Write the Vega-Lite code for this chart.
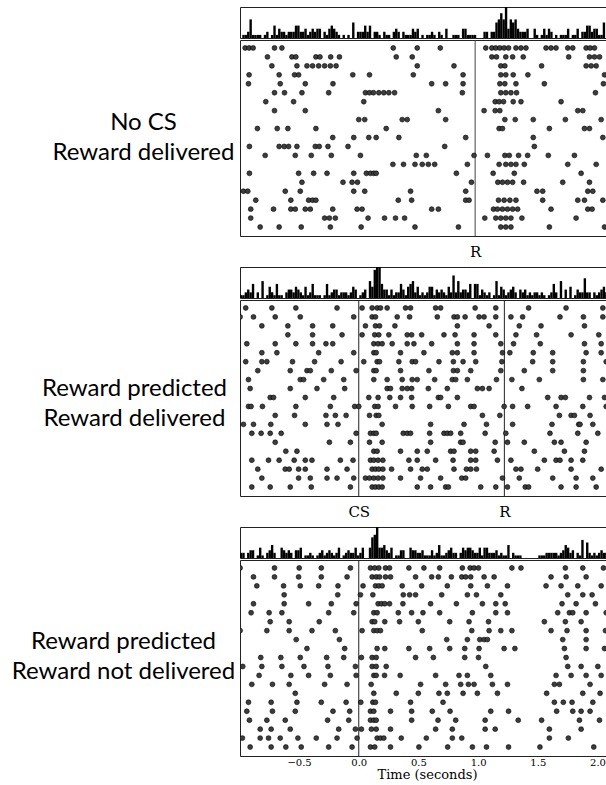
{
  "$schema": "https://vega.github.io/schema/vega-lite/v6.json",
  "background": "white",
  "padding": {"left": 10, "top": 6, "right": 0, "bottom": 0},
  "config": {"view": {"stroke": "#222", "strokeWidth": 1}, "font": "Lato"},
  "datasets": {
    "p1": [
      {"trial":1,"t":-0.952},{"trial":1,"t":-0.919},{"trial":1,"t":-0.885},{"trial":1,"t":-0.706},{"trial":1,"t":-0.644},{"trial":1,"t":0.289},{"trial":1,"t":0.490},{"trial":1,"t":0.683},{"trial":1,"t":1.064},{"trial":1,"t":1.115},{"trial":1,"t":1.148},{"trial":1,"t":1.182},{"trial":1,"t":1.218},{"trial":1,"t":1.255},{"trial":1,"t":1.317},{"trial":1,"t":1.359},{"trial":1,"t":1.401},{"trial":1,"t":1.569},{"trial":1,"t":1.611},{"trial":1,"t":1.653},{"trial":1,"t":1.751},{"trial":1,"t":1.793},{"trial":1,"t":1.905},{"trial":1,"t":1.938},{"trial":1,"t":1.975},
      {"trial":2,"t":-0.765},{"trial":2,"t":-0.560},{"trial":2,"t":-0.527},{"trial":2,"t":-0.359},{"trial":2,"t":-0.325},{"trial":2,"t":-0.235},{"trial":2,"t":-0.162},{"trial":2,"t":0.314},{"trial":2,"t":0.448},{"trial":2,"t":1.115},{"trial":2,"t":1.154},{"trial":2,"t":1.232},{"trial":2,"t":1.289},{"trial":2,"t":1.378},{"trial":2,"t":1.759},{"trial":2,"t":1.933},{"trial":2,"t":1.975},{"trial":2,"t":2.017},
      {"trial":3,"t":-0.728},{"trial":3,"t":-0.518},{"trial":3,"t":-0.434},{"trial":3,"t":-0.387},{"trial":3,"t":-0.336},{"trial":3,"t":-0.286},{"trial":3,"t":-0.238},{"trial":3,"t":-0.190},{"trial":3,"t":0.490},{"trial":3,"t":0.798},{"trial":3,"t":1.190},{"trial":3,"t":1.224},{"trial":3,"t":1.532},{"trial":3,"t":1.905},{"trial":3,"t":1.947},{"trial":3,"t":1.989},
      {"trial":4,"t":-0.919},{"trial":4,"t":-0.667},{"trial":4,"t":-0.538},{"trial":4,"t":-0.504},{"trial":4,"t":-0.050},{"trial":4,"t":0.090},{"trial":4,"t":0.457},{"trial":4,"t":0.874},{"trial":4,"t":1.190},{"trial":4,"t":1.232},{"trial":4,"t":1.294},{"trial":4,"t":1.417},{"trial":4,"t":2.059},
      {"trial":5,"t":-0.924},{"trial":5,"t":-0.658},{"trial":5,"t":-0.448},{"trial":5,"t":-0.216},{"trial":5,"t":0.611},{"trial":5,"t":0.728},{"trial":5,"t":0.874},{"trial":5,"t":1.182},{"trial":5,"t":1.224},{"trial":5,"t":1.317},{"trial":5,"t":1.555},{"trial":5,"t":2.050},
      {"trial":6,"t":-0.706},{"trial":6,"t":-0.622},{"trial":6,"t":-0.476},{"trial":6,"t":-0.252},{"trial":6,"t":0.056},{"trial":6,"t":0.090},{"trial":6,"t":0.123},{"trial":6,"t":0.168},{"trial":6,"t":0.210},{"trial":6,"t":0.252},{"trial":6,"t":0.300},{"trial":6,"t":0.868},{"trial":6,"t":1.190},{"trial":6,"t":1.232},{"trial":6,"t":1.275},{"trial":6,"t":1.322},{"trial":6,"t":1.983},
      {"trial":7,"t":-0.779},{"trial":7,"t":-0.546},{"trial":7,"t":0.042},{"trial":7,"t":1.143},{"trial":7,"t":1.176},{"trial":7,"t":1.213},{"trial":7,"t":1.294},{"trial":7,"t":1.359},{"trial":7,"t":1.695},
      {"trial":8,"t":-0.706},{"trial":8,"t":-0.448},{"trial":8,"t":0.667},{"trial":8,"t":1.050},{"trial":8,"t":1.143},{"trial":8,"t":1.182},{"trial":8,"t":1.835},{"trial":8,"t":1.877},
      {"trial":9,"t":0.000},{"trial":9,"t":0.050},{"trial":9,"t":0.364},{"trial":9,"t":0.406},{"trial":9,"t":0.728},{"trial":9,"t":1.224},{"trial":9,"t":1.311},{"trial":9,"t":1.462},{"trial":9,"t":1.731},{"trial":9,"t":2.031},
      {"trial":10,"t":-0.849},{"trial":10,"t":-0.683},{"trial":10,"t":-0.594},{"trial":10,"t":-0.359},{"trial":10,"t":0.230},{"trial":10,"t":1.176},{"trial":10,"t":1.204},{"trial":10,"t":1.597},{"trial":10,"t":1.891},{"trial":10,"t":1.933},
      {"trial":11,"t":-0.218},{"trial":11,"t":-0.042},{"trial":11,"t":0.084},{"trial":11,"t":0.146},{"trial":11,"t":0.336},{"trial":11,"t":0.896},{"trial":11,"t":1.462},{"trial":11,"t":2.045},
      {"trial":12,"t":-0.916},{"trial":12,"t":-0.667},{"trial":12,"t":-0.625},{"trial":12,"t":-0.588},{"trial":12,"t":-0.518},{"trial":12,"t":-0.364},{"trial":12,"t":-0.331},{"trial":12,"t":-0.258},{"trial":12,"t":-0.090},{"trial":12,"t":0.720},{"trial":12,"t":1.471},
      {"trial":13,"t":-0.784},{"trial":13,"t":-0.532},{"trial":13,"t":-0.398},{"trial":13,"t":-0.230},{"trial":13,"t":0.014},{"trial":13,"t":0.482},{"trial":13,"t":0.566},{"trial":13,"t":0.966},{"trial":13,"t":1.078},{"trial":13,"t":1.224},{"trial":13,"t":1.261},{"trial":13,"t":1.339},{"trial":13,"t":1.415},{"trial":13,"t":1.588},{"trial":13,"t":1.807},
      {"trial":14,"t":0.286},{"trial":14,"t":0.375},{"trial":14,"t":0.471},{"trial":14,"t":0.532},{"trial":14,"t":0.583},{"trial":14,"t":0.636},{"trial":14,"t":0.910},{"trial":14,"t":1.176},{"trial":14,"t":1.232},{"trial":14,"t":1.275},{"trial":14,"t":1.317},{"trial":14,"t":1.387},{"trial":14,"t":1.751},{"trial":14,"t":1.989},
      {"trial":15,"t":-0.916},{"trial":15,"t":-0.504},{"trial":15,"t":-0.378},{"trial":15,"t":-0.266},{"trial":15,"t":-0.042},{"trial":15,"t":0.064},{"trial":15,"t":0.098},{"trial":15,"t":0.126},{"trial":15,"t":0.146},{"trial":15,"t":0.818},{"trial":15,"t":1.126},{"trial":15,"t":1.303},{"trial":15,"t":1.863},
      {"trial":16,"t":-0.476},{"trial":16,"t":-0.132},{"trial":16,"t":-0.056},{"trial":16,"t":-0.011},{"trial":16,"t":0.944},{"trial":16,"t":1.165},{"trial":16,"t":1.204},{"trial":16,"t":1.246},{"trial":16,"t":1.289},{"trial":16,"t":1.381},{"trial":16,"t":1.709},{"trial":16,"t":1.933},
      {"trial":17,"t":-0.966},{"trial":17,"t":-0.930},{"trial":17,"t":-0.616},{"trial":17,"t":-0.490},{"trial":17,"t":-0.042},{"trial":17,"t":0.050},{"trial":17,"t":0.434},{"trial":17,"t":0.896},{"trial":17,"t":1.493},{"trial":17,"t":1.541},{"trial":17,"t":1.919},{"trial":17,"t":1.961},
      {"trial":18,"t":-0.863},{"trial":18,"t":-0.569},{"trial":18,"t":-0.420},{"trial":18,"t":-0.387},{"trial":18,"t":-0.359},{"trial":18,"t":0.331},{"trial":18,"t":0.443},{"trial":18,"t":0.896},{"trial":18,"t":0.924},{"trial":18,"t":1.171},{"trial":18,"t":1.218},{"trial":18,"t":1.266},{"trial":18,"t":1.317},{"trial":18,"t":1.541},{"trial":18,"t":1.835},{"trial":18,"t":1.891},{"trial":18,"t":2.045},
      {"trial":19,"t":-0.905},{"trial":19,"t":-0.714},{"trial":19,"t":-0.569},{"trial":19,"t":-0.532},{"trial":19,"t":-0.448},{"trial":19,"t":-0.406},{"trial":19,"t":-0.218},{"trial":19,"t":-0.014},{"trial":19,"t":0.028},{"trial":19,"t":0.611},{"trial":19,"t":0.667},{"trial":19,"t":1.129},{"trial":19,"t":1.162},{"trial":19,"t":1.204},{"trial":19,"t":1.246},{"trial":19,"t":1.289},{"trial":19,"t":1.331},{"trial":19,"t":1.611},{"trial":19,"t":1.919},{"trial":19,"t":1.955},
      {"trial":20,"t":-0.905},{"trial":20,"t":-0.286},{"trial":20,"t":-0.246},{"trial":20,"t":-0.196},{"trial":20,"t":0.078},{"trial":20,"t":0.216},{"trial":20,"t":0.308},{"trial":20,"t":0.384},{"trial":20,"t":1.056},{"trial":20,"t":1.148},{"trial":20,"t":1.190},{"trial":20,"t":1.232},{"trial":20,"t":1.275},{"trial":20,"t":1.367},{"trial":20,"t":1.821},
      {"trial":21,"t":-0.826},{"trial":21,"t":-0.667},{"trial":21,"t":-0.482},{"trial":21,"t":-0.238},{"trial":21,"t":0.020},{"trial":21,"t":0.471},{"trial":21,"t":0.835},{"trial":21,"t":1.190},{"trial":21,"t":1.232},{"trial":21,"t":1.275},{"trial":21,"t":1.597},{"trial":21,"t":2.059}
    ],
    "p2": [
      {"trial":1,"t":-0.947},{"trial":1,"t":-0.728},{"trial":1,"t":-0.527},{"trial":1,"t":-0.182},{"trial":1,"t":0.028},{"trial":1,"t":0.112},{"trial":1,"t":0.154},{"trial":1,"t":0.182},{"trial":1,"t":0.238},{"trial":1,"t":0.392},{"trial":1,"t":0.434},{"trial":1,"t":0.644},{"trial":1,"t":0.686},{"trial":1,"t":0.975},{"trial":1,"t":1.148},{"trial":1,"t":1.423},{"trial":1,"t":1.737},{"trial":1,"t":2.045},
      {"trial":2,"t":-0.994},{"trial":2,"t":-0.882},{"trial":2,"t":-0.700},{"trial":2,"t":-0.490},{"trial":2,"t":-0.042},{"trial":2,"t":0.112},{"trial":2,"t":0.140},{"trial":2,"t":0.322},{"trial":2,"t":0.426},{"trial":2,"t":0.658},{"trial":2,"t":0.798},{"trial":2,"t":0.826},{"trial":2,"t":0.891},{"trial":2,"t":1.008},{"trial":2,"t":1.050},{"trial":2,"t":1.148},{"trial":2,"t":1.275},{"trial":2,"t":1.373},{"trial":2,"t":1.686},{"trial":2,"t":1.882},{"trial":2,"t":2.045},
      {"trial":3,"t":-0.812},{"trial":3,"t":-0.594},{"trial":3,"t":-0.387},{"trial":3,"t":-0.218},{"trial":3,"t":0.056},{"trial":3,"t":0.140},{"trial":3,"t":0.174},{"trial":3,"t":0.303},{"trial":3,"t":0.826},{"trial":3,"t":1.092},{"trial":3,"t":1.345},{"trial":3,"t":1.527},{"trial":3,"t":1.891},
      {"trial":4,"t":-0.594},{"trial":4,"t":-0.387},{"trial":4,"t":-0.140},{"trial":4,"t":0.028},{"trial":4,"t":0.134},{"trial":4,"t":0.168},{"trial":4,"t":0.252},{"trial":4,"t":0.406},{"trial":4,"t":0.443},{"trial":4,"t":0.527},{"trial":4,"t":0.714},{"trial":4,"t":0.807},{"trial":4,"t":0.966},{"trial":4,"t":1.148},{"trial":4,"t":1.317},{"trial":4,"t":1.490},{"trial":4,"t":1.779},{"trial":4,"t":2.011},
      {"trial":5,"t":-0.938},{"trial":5,"t":-0.700},{"trial":5,"t":-0.527},{"trial":5,"t":-0.387},{"trial":5,"t":-0.275},{"trial":5,"t":-0.218},{"trial":5,"t":0.126},{"trial":5,"t":0.162},{"trial":5,"t":0.196},{"trial":5,"t":0.280},{"trial":5,"t":0.406},{"trial":5,"t":0.462},{"trial":5,"t":0.611},{"trial":5,"t":0.826},{"trial":5,"t":0.966},{"trial":5,"t":1.190},{"trial":5,"t":1.297},{"trial":5,"t":1.521},{"trial":5,"t":1.891},{"trial":5,"t":2.031},
      {"trial":6,"t":-0.812},{"trial":6,"t":-0.686},{"trial":6,"t":-0.336},{"trial":6,"t":-0.042},{"trial":6,"t":0.126},{"trial":6,"t":0.146},{"trial":6,"t":0.350},{"trial":6,"t":0.546},{"trial":6,"t":0.784},{"trial":6,"t":0.826},{"trial":6,"t":0.966},{"trial":6,"t":1.204},{"trial":6,"t":1.266},{"trial":6,"t":1.462},{"trial":6,"t":1.625},{"trial":6,"t":1.905},{"trial":6,"t":2.031},
      {"trial":7,"t":-0.947},{"trial":7,"t":-0.812},{"trial":7,"t":-0.770},{"trial":7,"t":-0.555},{"trial":7,"t":-0.370},{"trial":7,"t":-0.148},{"trial":7,"t":0.042},{"trial":7,"t":0.154},{"trial":7,"t":0.174},{"trial":7,"t":0.336},{"trial":7,"t":0.448},{"trial":7,"t":0.476},{"trial":7,"t":0.672},{"trial":7,"t":0.793},{"trial":7,"t":0.874},{"trial":7,"t":0.980},{"trial":7,"t":1.199},{"trial":7,"t":1.457},{"trial":7,"t":1.625},{"trial":7,"t":1.882},{"trial":7,"t":2.073},
      {"trial":8,"t":-0.846},{"trial":8,"t":-0.574},{"trial":8,"t":-0.434},{"trial":8,"t":-0.406},{"trial":8,"t":-0.230},{"trial":8,"t":-0.022},{"trial":8,"t":0.126},{"trial":8,"t":0.146},{"trial":8,"t":0.350},{"trial":8,"t":0.588},{"trial":8,"t":0.793},{"trial":8,"t":0.826},{"trial":8,"t":0.938},{"trial":8,"t":1.190},{"trial":8,"t":1.387},{"trial":8,"t":1.625},{"trial":8,"t":1.882},
      {"trial":9,"t":-0.924},{"trial":9,"t":-0.490},{"trial":9,"t":-0.462},{"trial":9,"t":-0.294},{"trial":9,"t":-0.126},{"trial":9,"t":0.126},{"trial":9,"t":0.238},{"trial":9,"t":0.364},{"trial":9,"t":0.448},{"trial":9,"t":0.490},{"trial":9,"t":0.636},{"trial":9,"t":0.784},{"trial":9,"t":0.812},{"trial":9,"t":0.910},{"trial":9,"t":1.154},{"trial":9,"t":1.283},{"trial":9,"t":1.513},{"trial":9,"t":1.882},{"trial":9,"t":2.045},
      {"trial":10,"t":-0.910},{"trial":10,"t":-0.574},{"trial":10,"t":-0.350},{"trial":10,"t":-0.118},{"trial":10,"t":0.238},{"trial":10,"t":0.266},{"trial":10,"t":0.364},{"trial":10,"t":0.406},{"trial":10,"t":0.443},{"trial":10,"t":0.583},{"trial":10,"t":0.742},{"trial":10,"t":0.994},{"trial":10,"t":1.036},{"trial":10,"t":1.092},{"trial":10,"t":1.367},
      {"trial":11,"t":-0.742},{"trial":11,"t":-0.714},{"trial":11,"t":-0.448},{"trial":11,"t":-0.210},{"trial":11,"t":0.084},{"trial":11,"t":0.162},{"trial":11,"t":0.260},{"trial":11,"t":0.350},{"trial":11,"t":0.443},{"trial":11,"t":0.667},{"trial":11,"t":0.686},{"trial":11,"t":0.826},{"trial":11,"t":1.583},{"trial":11,"t":1.695},{"trial":11,"t":1.731},{"trial":11,"t":1.933},{"trial":11,"t":2.059},
      {"trial":12,"t":-0.924},{"trial":12,"t":-0.902},{"trial":12,"t":-0.807},{"trial":12,"t":-0.527},{"trial":12,"t":-0.238},{"trial":12,"t":-0.034},{"trial":12,"t":0.000},{"trial":12,"t":0.134},{"trial":12,"t":0.162},{"trial":12,"t":0.308},{"trial":12,"t":0.448},{"trial":12,"t":0.594},{"trial":12,"t":0.751},{"trial":12,"t":0.938},{"trial":12,"t":0.966},{"trial":12,"t":1.218},{"trial":12,"t":1.289},{"trial":12,"t":1.415},{"trial":12,"t":1.653},{"trial":12,"t":1.877},{"trial":12,"t":2.073},
      {"trial":13,"t":-0.700},{"trial":13,"t":-0.538},{"trial":13,"t":-0.275},{"trial":13,"t":-0.196},{"trial":13,"t":-0.106},{"trial":13,"t":0.090},{"trial":13,"t":0.146},{"trial":13,"t":0.168},{"trial":13,"t":1.036},{"trial":13,"t":1.182},{"trial":13,"t":1.681},{"trial":13,"t":1.779},{"trial":13,"t":1.807},{"trial":13,"t":1.938},
      {"trial":14,"t":-0.966},{"trial":14,"t":-0.882},{"trial":14,"t":-0.737},{"trial":14,"t":-0.448},{"trial":14,"t":-0.266},{"trial":14,"t":-0.174},{"trial":14,"t":0.196},{"trial":14,"t":0.602},{"trial":14,"t":0.882},{"trial":14,"t":1.070},{"trial":14,"t":1.289},{"trial":14,"t":1.619},{"trial":14,"t":1.843},{"trial":14,"t":1.854},{"trial":14,"t":1.961},
      {"trial":15,"t":-0.896},{"trial":15,"t":-0.818},{"trial":15,"t":-0.742},{"trial":15,"t":-0.650},{"trial":15,"t":-0.022},{"trial":15,"t":0.098},{"trial":15,"t":0.126},{"trial":15,"t":0.146},{"trial":15,"t":0.373},{"trial":15,"t":0.406},{"trial":15,"t":0.434},{"trial":15,"t":0.594},{"trial":15,"t":0.714},{"trial":15,"t":0.742},{"trial":15,"t":0.770},{"trial":15,"t":0.854},{"trial":15,"t":1.059},{"trial":15,"t":1.232},{"trial":15,"t":1.602},{"trial":15,"t":1.835},{"trial":15,"t":2.003},
      {"trial":16,"t":-0.700},{"trial":16,"t":-0.246},{"trial":16,"t":-0.070},{"trial":16,"t":0.090},{"trial":16,"t":0.196},{"trial":16,"t":0.602},{"trial":16,"t":0.854},{"trial":16,"t":0.874},{"trial":16,"t":1.143},{"trial":16,"t":1.246},{"trial":16,"t":1.387},{"trial":16,"t":1.639},{"trial":16,"t":1.695},{"trial":16,"t":1.905},
      {"trial":17,"t":-0.611},{"trial":17,"t":-0.518},{"trial":17,"t":0.126},{"trial":17,"t":0.154},{"trial":17,"t":0.350},{"trial":17,"t":0.490},{"trial":17,"t":0.574},{"trial":17,"t":0.770},{"trial":17,"t":0.798},{"trial":17,"t":0.938},{"trial":17,"t":0.980},{"trial":17,"t":1.134},{"trial":17,"t":1.471},{"trial":17,"t":1.723},{"trial":17,"t":1.891},
      {"trial":18,"t":-0.896},{"trial":18,"t":-0.756},{"trial":18,"t":-0.667},{"trial":18,"t":-0.541},{"trial":18,"t":-0.448},{"trial":18,"t":-0.392},{"trial":18,"t":-0.154},{"trial":18,"t":-0.048},{"trial":18,"t":0.098},{"trial":18,"t":0.126},{"trial":18,"t":0.162},{"trial":18,"t":0.202},{"trial":18,"t":0.420},{"trial":18,"t":0.490},{"trial":18,"t":0.644},{"trial":18,"t":0.790},{"trial":18,"t":0.938},{"trial":18,"t":0.980},{"trial":18,"t":1.162},{"trial":18,"t":1.275},{"trial":18,"t":1.555},{"trial":18,"t":1.653},{"trial":18,"t":1.686},{"trial":18,"t":1.779},{"trial":18,"t":1.877},
      {"trial":19,"t":-0.846},{"trial":19,"t":-0.616},{"trial":19,"t":-0.583},{"trial":19,"t":-0.504},{"trial":19,"t":-0.448},{"trial":19,"t":-0.266},{"trial":19,"t":-0.098},{"trial":19,"t":0.112},{"trial":19,"t":0.140},{"trial":19,"t":0.168},{"trial":19,"t":0.202},{"trial":19,"t":0.275},{"trial":19,"t":0.434},{"trial":19,"t":0.532},{"trial":19,"t":0.574},{"trial":19,"t":0.798},{"trial":19,"t":0.902},{"trial":19,"t":0.938},{"trial":19,"t":0.986},{"trial":19,"t":1.317},{"trial":19,"t":1.359},{"trial":19,"t":1.499},{"trial":19,"t":1.779},{"trial":19,"t":2.031},
      {"trial":20,"t":-0.812},{"trial":20,"t":-0.504},{"trial":20,"t":-0.406},{"trial":20,"t":-0.266},{"trial":20,"t":-0.182},{"trial":20,"t":-0.042},{"trial":20,"t":0.056},{"trial":20,"t":0.090},{"trial":20,"t":0.126},{"trial":20,"t":0.162},{"trial":20,"t":0.202},{"trial":20,"t":0.350},{"trial":20,"t":0.518},{"trial":20,"t":0.686},{"trial":20,"t":0.863},{"trial":20,"t":0.896},{"trial":20,"t":1.204},{"trial":20,"t":1.345},{"trial":20,"t":1.625},{"trial":20,"t":1.821},{"trial":20,"t":1.961},
      {"trial":21,"t":-0.896},{"trial":21,"t":-0.742},{"trial":21,"t":-0.574},{"trial":21,"t":-0.398},{"trial":21,"t":-0.070},{"trial":21,"t":0.112},{"trial":21,"t":0.140},{"trial":21,"t":0.168},{"trial":21,"t":0.196},{"trial":21,"t":0.490},{"trial":21,"t":0.602},{"trial":21,"t":0.728},{"trial":21,"t":0.751},{"trial":21,"t":1.022},{"trial":21,"t":1.148},{"trial":21,"t":1.246},{"trial":21,"t":1.395},{"trial":21,"t":1.423},{"trial":21,"t":1.695},{"trial":21,"t":1.821},{"trial":21,"t":1.989}
    ],
    "p3": [
      {"trial":1,"t":-0.994},{"trial":1,"t":-0.706},{"trial":1,"t":-0.499},{"trial":1,"t":-0.314},{"trial":1,"t":-0.070},{"trial":1,"t":0.098},{"trial":1,"t":0.134},{"trial":1,"t":0.168},{"trial":1,"t":0.224},{"trial":1,"t":0.258},{"trial":1,"t":0.420},{"trial":1,"t":0.546},{"trial":1,"t":0.678},{"trial":1,"t":0.868},{"trial":1,"t":0.933},{"trial":1,"t":0.966},{"trial":1,"t":1.003},{"trial":1,"t":1.283},{"trial":1,"t":1.359},{"trial":1,"t":1.731},{"trial":1,"t":1.877},{"trial":1,"t":2.050},
      {"trial":2,"t":-0.882},{"trial":2,"t":-0.706},{"trial":2,"t":-0.504},{"trial":2,"t":-0.314},{"trial":2,"t":-0.098},{"trial":2,"t":0.112},{"trial":2,"t":0.146},{"trial":2,"t":0.174},{"trial":2,"t":0.224},{"trial":2,"t":0.266},{"trial":2,"t":0.476},{"trial":2,"t":0.611},{"trial":2,"t":0.667},{"trial":2,"t":0.776},{"trial":2,"t":0.863},{"trial":2,"t":0.896},{"trial":2,"t":0.938},{"trial":2,"t":1.050},{"trial":2,"t":1.134},{"trial":2,"t":1.611},{"trial":2,"t":1.737},{"trial":2,"t":1.905},
      {"trial":3,"t":-0.854},{"trial":3,"t":-0.630},{"trial":3,"t":-0.490},{"trial":3,"t":-0.336},{"trial":3,"t":-0.174},{"trial":3,"t":0.036},{"trial":3,"t":0.140},{"trial":3,"t":0.168},{"trial":3,"t":0.196},{"trial":3,"t":0.364},{"trial":3,"t":0.527},{"trial":3,"t":0.742},{"trial":3,"t":0.938},{"trial":3,"t":1.078},{"trial":3,"t":1.246},{"trial":3,"t":1.569},{"trial":3,"t":1.695},{"trial":3,"t":1.835},{"trial":3,"t":2.031},
      {"trial":4,"t":-0.625},{"trial":4,"t":-0.176},{"trial":4,"t":0.014},{"trial":4,"t":0.118},{"trial":4,"t":0.373},{"trial":4,"t":0.426},{"trial":4,"t":0.476},{"trial":4,"t":0.695},{"trial":4,"t":0.910},{"trial":4,"t":0.986},{"trial":4,"t":1.190},{"trial":4,"t":1.751},{"trial":4,"t":1.877},{"trial":4,"t":1.955},
      {"trial":5,"t":-0.882},{"trial":5,"t":-0.625},{"trial":5,"t":-0.420},{"trial":5,"t":-0.230},{"trial":5,"t":-0.022},{"trial":5,"t":0.162},{"trial":5,"t":0.190},{"trial":5,"t":0.218},{"trial":5,"t":0.258},{"trial":5,"t":0.370},{"trial":5,"t":0.602},{"trial":5,"t":0.818},{"trial":5,"t":1.036},{"trial":5,"t":1.148},{"trial":5,"t":1.227},{"trial":5,"t":1.703},{"trial":5,"t":1.821},{"trial":5,"t":1.983},
      {"trial":6,"t":-0.902},{"trial":6,"t":-0.751},{"trial":6,"t":-0.644},{"trial":6,"t":-0.252},{"trial":6,"t":-0.042},{"trial":6,"t":0.126},{"trial":6,"t":0.154},{"trial":6,"t":0.331},{"trial":6,"t":0.443},{"trial":6,"t":0.538},{"trial":6,"t":0.678},{"trial":6,"t":0.952},{"trial":6,"t":1.148},{"trial":6,"t":1.246},{"trial":6,"t":1.667},{"trial":6,"t":1.765},{"trial":6,"t":1.793},{"trial":6,"t":1.905},{"trial":6,"t":2.073},
      {"trial":7,"t":-0.742},{"trial":7,"t":-0.583},{"trial":7,"t":-0.331},{"trial":7,"t":0.112},{"trial":7,"t":0.134},{"trial":7,"t":0.218},{"trial":7,"t":0.342},{"trial":7,"t":0.499},{"trial":7,"t":0.762},{"trial":7,"t":0.924},{"trial":7,"t":1.087},{"trial":7,"t":1.555},{"trial":7,"t":1.731},{"trial":7,"t":1.863},
      {"trial":8,"t":-0.994},{"trial":8,"t":-0.770},{"trial":8,"t":-0.583},{"trial":8,"t":-0.392},{"trial":8,"t":-0.196},{"trial":8,"t":0.028},{"trial":8,"t":0.126},{"trial":8,"t":0.154},{"trial":8,"t":0.182},{"trial":8,"t":0.532},{"trial":8,"t":0.947},{"trial":8,"t":1.092},{"trial":8,"t":1.190},{"trial":8,"t":1.283},{"trial":8,"t":1.611},{"trial":8,"t":1.745},{"trial":8,"t":1.905},{"trial":8,"t":2.067},
      {"trial":9,"t":-0.524},{"trial":9,"t":-0.162},{"trial":9,"t":0.737},{"trial":9,"t":0.910},{"trial":9,"t":1.014},{"trial":9,"t":1.050},{"trial":9,"t":1.078},{"trial":9,"t":1.709},{"trial":9,"t":1.905},
      {"trial":10,"t":-0.434},{"trial":10,"t":-0.118},{"trial":10,"t":0.154},{"trial":10,"t":0.218},{"trial":10,"t":0.420},{"trial":10,"t":0.594},{"trial":10,"t":0.762},{"trial":10,"t":0.888},{"trial":10,"t":1.008},{"trial":10,"t":1.218},{"trial":10,"t":1.308},{"trial":10,"t":1.723},{"trial":10,"t":1.905},{"trial":10,"t":2.059},
      {"trial":11,"t":-0.821},{"trial":11,"t":-0.653},{"trial":11,"t":-0.490},{"trial":11,"t":-0.269},{"trial":11,"t":-0.126},{"trial":11,"t":0.022},{"trial":11,"t":0.112},{"trial":11,"t":0.146},{"trial":11,"t":0.476},{"trial":11,"t":0.625},{"trial":11,"t":0.888},{"trial":11,"t":1.003},{"trial":11,"t":1.737},
      {"trial":12,"t":-0.972},{"trial":12,"t":-0.812},{"trial":12,"t":-0.644},{"trial":12,"t":-0.459},{"trial":12,"t":-0.258},{"trial":12,"t":-0.028},{"trial":12,"t":0.112},{"trial":12,"t":0.146},{"trial":12,"t":0.230},{"trial":12,"t":1.064},{"trial":12,"t":1.751},{"trial":12,"t":1.863},{"trial":12,"t":2.003},
      {"trial":13,"t":-0.835},{"trial":13,"t":-0.569},{"trial":13,"t":-0.420},{"trial":13,"t":-0.238},{"trial":13,"t":-0.022},{"trial":13,"t":0.126},{"trial":13,"t":0.146},{"trial":13,"t":0.216},{"trial":13,"t":0.347},{"trial":13,"t":0.644},{"trial":13,"t":0.840},{"trial":13,"t":0.910},{"trial":13,"t":1.106},{"trial":13,"t":1.653},{"trial":13,"t":1.779},{"trial":13,"t":1.905},{"trial":13,"t":2.031},
      {"trial":14,"t":-0.896},{"trial":14,"t":-0.723},{"trial":14,"t":-0.583},{"trial":14,"t":-0.286},{"trial":14,"t":-0.098},{"trial":14,"t":0.104},{"trial":14,"t":0.518},{"trial":14,"t":0.728},{"trial":14,"t":0.854},{"trial":14,"t":0.919},{"trial":14,"t":0.966},{"trial":14,"t":1.120},{"trial":14,"t":1.246},{"trial":14,"t":1.639},{"trial":14,"t":1.681},{"trial":14,"t":1.938},
      {"trial":15,"t":-0.532},{"trial":15,"t":0.126},{"trial":15,"t":0.314},{"trial":15,"t":0.499},{"trial":15,"t":0.672},{"trial":15,"t":0.742},{"trial":15,"t":0.874},{"trial":15,"t":0.994},{"trial":15,"t":1.162},{"trial":15,"t":1.574},{"trial":15,"t":1.877},{"trial":15,"t":2.022},
      {"trial":16,"t":-0.924},{"trial":16,"t":-0.734},{"trial":16,"t":-0.518},{"trial":16,"t":-0.314},{"trial":16,"t":-0.106},{"trial":16,"t":0.017},{"trial":16,"t":0.118},{"trial":16,"t":0.140},{"trial":16,"t":0.434},{"trial":16,"t":0.706},{"trial":16,"t":1.639},{"trial":16,"t":1.714},{"trial":16,"t":1.787},{"trial":16,"t":1.961},
      {"trial":17,"t":-0.938},{"trial":17,"t":-0.723},{"trial":17,"t":-0.532},{"trial":17,"t":-0.216},{"trial":17,"t":-0.076},{"trial":17,"t":0.098},{"trial":17,"t":0.126},{"trial":17,"t":0.266},{"trial":17,"t":0.443},{"trial":17,"t":0.616},{"trial":17,"t":0.765},{"trial":17,"t":1.106},{"trial":17,"t":1.255},{"trial":17,"t":1.658},{"trial":17,"t":1.793},{"trial":17,"t":1.863},{"trial":17,"t":1.938},
      {"trial":18,"t":-0.916},{"trial":18,"t":-0.770},{"trial":18,"t":-0.616},{"trial":18,"t":-0.261},{"trial":18,"t":-0.084},{"trial":18,"t":0.098},{"trial":18,"t":0.126},{"trial":18,"t":0.146},{"trial":18,"t":0.443},{"trial":18,"t":0.664},{"trial":18,"t":0.812},{"trial":18,"t":1.059},{"trial":18,"t":1.336},{"trial":18,"t":1.532},{"trial":18,"t":1.849},{"trial":18,"t":2.017},
      {"trial":19,"t":-0.826},{"trial":19,"t":-0.734},{"trial":19,"t":-0.574},{"trial":19,"t":-0.168},{"trial":19,"t":-0.028},{"trial":19,"t":0.022},{"trial":19,"t":0.106},{"trial":19,"t":0.146},{"trial":19,"t":0.266},{"trial":19,"t":0.644},{"trial":19,"t":0.784},{"trial":19,"t":1.059},{"trial":19,"t":1.143},{"trial":19,"t":1.597},{"trial":19,"t":1.863},
      {"trial":20,"t":-0.975},{"trial":20,"t":-0.826},{"trial":20,"t":-0.756},{"trial":20,"t":-0.658},{"trial":20,"t":-0.510},{"trial":20,"t":-0.356},{"trial":20,"t":-0.182},{"trial":20,"t":-0.014},{"trial":20,"t":0.154},{"trial":20,"t":0.182},{"trial":20,"t":0.210},{"trial":20,"t":0.356},{"trial":20,"t":0.566},{"trial":20,"t":0.784},{"trial":20,"t":0.863},{"trial":20,"t":1.597},{"trial":20,"t":1.756},
      {"trial":21,"t":-0.910},{"trial":21,"t":-0.734},{"trial":21,"t":-0.611},{"trial":21,"t":-0.482},{"trial":21,"t":-0.252},{"trial":21,"t":-0.056},{"trial":21,"t":0.098},{"trial":21,"t":0.134},{"trial":21,"t":0.266},{"trial":21,"t":0.504},{"trial":21,"t":0.745},{"trial":21,"t":0.952},{"trial":21,"t":1.070},{"trial":21,"t":1.255},{"trial":21,"t":1.518},{"trial":21,"t":1.969}
    ]
  },
  "spacing": 6,
  "vconcat": [
    {
      "spacing": 0,
      "vconcat": [
        {
          "width": 370, "height": 31,
          "data": {"name": "p1"},
          "mark": {"type": "bar", "color": "#000", "binSpacing": 0, "clip": true},
          "encoding": {
            "x": {"field": "t", "type": "quantitative", "bin": {"step": 0.02, "extent": [-1, 2.12]}, "scale": {"domain": [-0.995, 2.105], "nice": false}, "axis": null},
            "y": {"aggregate": "count", "type": "quantitative", "scale": {"nice": false}, "axis": null}
          }
        },
        {
          "width": 370, "height": 196,
          "layer": [
            {
              "data": {"values": [{"event": "R", "t": 0.975}]},
              "mark": {"type": "rule", "color": "#444", "strokeWidth": 1},
              "encoding": {"x": {"field": "t", "type": "quantitative", "scale": {"domain": [-0.995, 2.105], "nice": false}}}
            },
            {
              "data": {"name": "p1"},
              "mark": {"type": "point", "shape": "circle", "filled": true, "color": "#3d3d3d", "stroke": "#000", "strokeWidth": 0.6, "size": 24, "opacity": 1, "clip": true},
              "encoding": {
                "x": {"field": "t", "type": "quantitative", "scale": {"domain": [-0.995, 2.105], "nice": false},
                  "axis": {"values": [0.975], "labelExpr": "'R'", "ticks": false, "domain": false, "grid": false, "title": null, "labelFont": "DejaVu Serif", "labelFontSize": 15, "labelPadding": 8, "labelColor": "#000"}},
                "y": {"field": "trial", "type": "quantitative", "scale": {"domain": [0.11, 22], "reverse": true, "nice": false},
                  "axis": {"title": ["No CS", "Reward delivered"], "labels": false, "ticks": false, "domain": false, "grid": false, "titleAngle": 0, "titleAlign": "center", "titleBaseline": "middle", "titleX": -97, "titleY": 82, "titleFont": "Lato", "titleFontSize": 24, "titleFontWeight": "normal", "titleColor": "#000", "titleLineHeight": 30}}
              }
            }
          ]
        }
      ]
    },
    {
      "spacing": 0,
      "vconcat": [
        {
          "width": 370, "height": 31,
          "data": {"name": "p2"},
          "mark": {"type": "bar", "color": "#000", "binSpacing": 0, "clip": true},
          "encoding": {
            "x": {"field": "t", "type": "quantitative", "bin": {"step": 0.02, "extent": [-1, 2.12]}, "scale": {"domain": [-0.995, 2.105], "nice": false}, "axis": null},
            "y": {"aggregate": "count", "type": "quantitative", "scale": {"nice": false}, "axis": null}
          }
        },
        {
          "width": 370, "height": 196,
          "layer": [
            {
              "data": {"values": [{"event": "CS", "t": 0}, {"event": "R", "t": 1.22}]},
              "mark": {"type": "rule", "color": "#222", "strokeWidth": 1},
              "encoding": {"x": {"field": "t", "type": "quantitative", "scale": {"domain": [-0.995, 2.105], "nice": false}}}
            },
            {
              "data": {"name": "p2"},
              "mark": {"type": "point", "shape": "circle", "filled": true, "color": "#3d3d3d", "stroke": "#000", "strokeWidth": 0.6, "size": 24, "opacity": 1, "clip": true},
              "encoding": {
                "x": {"field": "t", "type": "quantitative", "scale": {"domain": [-0.995, 2.105], "nice": false},
                  "axis": {"values": [0, 1.22], "labelExpr": "datum.value < 0.5 ? 'CS' : 'R'", "ticks": false, "domain": false, "grid": false, "title": null, "labelFont": "DejaVu Serif", "labelFontSize": 15, "labelPadding": 8, "labelColor": "#000"}},
                "y": {"field": "trial", "type": "quantitative", "scale": {"domain": [0.11, 22], "reverse": true, "nice": false},
                  "axis": {"title": ["Reward predicted", "Reward delivered"], "labels": false, "ticks": false, "domain": false, "grid": false, "titleAngle": 0, "titleAlign": "center", "titleBaseline": "middle", "titleX": -106, "titleY": 88, "titleFont": "Lato", "titleFontSize": 24, "titleFontWeight": "normal", "titleColor": "#000", "titleLineHeight": 30}}
              }
            }
          ]
        }
      ]
    },
    {
      "spacing": 0,
      "vconcat": [
        {
          "width": 370, "height": 31,
          "data": {"name": "p3"},
          "mark": {"type": "bar", "color": "#000", "binSpacing": 0, "clip": true},
          "encoding": {
            "x": {"field": "t", "type": "quantitative", "bin": {"step": 0.02, "extent": [-1, 2.12]}, "scale": {"domain": [-0.995, 2.105], "nice": false}, "axis": null},
            "y": {"aggregate": "count", "type": "quantitative", "scale": {"nice": false}, "axis": null}
          }
        },
        {
          "width": 370, "height": 196,
          "layer": [
            {
              "data": {"values": [{"event": "CS", "t": 0}]},
              "mark": {"type": "rule", "color": "#222", "strokeWidth": 1},
              "encoding": {"x": {"field": "t", "type": "quantitative", "scale": {"domain": [-0.995, 2.105], "nice": false}}}
            },
            {
              "data": {"name": "p3"},
              "mark": {"type": "point", "shape": "circle", "filled": true, "color": "#3d3d3d", "stroke": "#000", "strokeWidth": 0.6, "size": 24, "opacity": 1, "clip": true},
              "encoding": {
                "x": {"field": "t", "type": "quantitative", "scale": {"domain": [-0.995, 2.105], "nice": false},
                  "axis": {"values": [-0.5, 0, 0.5, 1, 1.5, 2], "labelExpr": "replace(format(datum.value, '.1f'), '-', '\u2212')", "ticks": false, "domain": false, "grid": false, "labelFlush": false, "title": "Time (seconds)", "titleFont": "DejaVu Serif", "titleFontSize": 13, "titleFontWeight": "normal", "titleColor": "#000", "titlePadding": 1, "titleX": 187, "titleAnchor": "middle", "labelFont": "DejaVu Serif", "labelFontSize": 10, "labelPadding": 1, "labelColor": "#000"}},
                "y": {"field": "trial", "type": "quantitative", "scale": {"domain": [0.11, 22], "reverse": true, "nice": false},
                  "axis": {"title": ["Reward predicted", "Reward not delivered"], "labels": false, "ticks": false, "domain": false, "grid": false, "titleAngle": 0, "titleAlign": "center", "titleBaseline": "middle", "titleX": -117, "titleY": 81, "titleFont": "Lato", "titleFontSize": 24, "titleFontWeight": "normal", "titleColor": "#000", "titleLineHeight": 30}}
              }
            }
          ]
        }
      ]
    }
  ]
}
